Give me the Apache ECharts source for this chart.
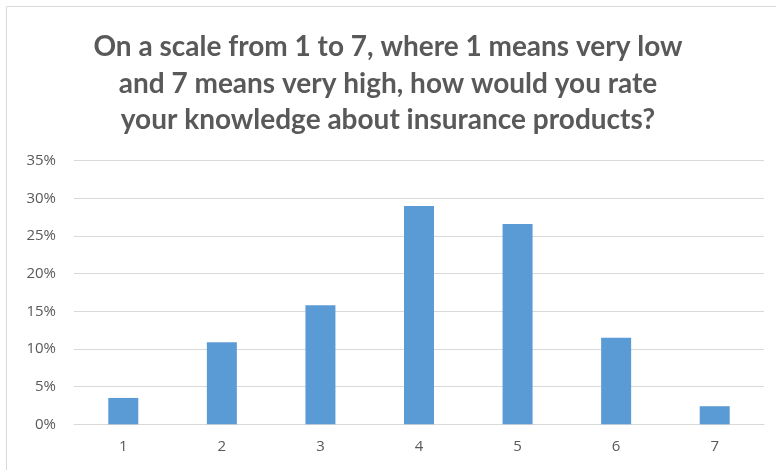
<!DOCTYPE html>
<html>
<head>
<meta charset="utf-8">
<script src="https://cdn.jsdelivr.net/npm/echarts@6/dist/echarts.min.js"></script>
<style>html,body{margin:0;padding:0;background:#fff}#c{width:776px;height:470px}</style>
</head>
<body>
<div id="c"></div>
<script>
var titleText = 'On a scale from 1 to 7, where 1 means very low\nand 7 means very high, how would you rate\nyour knowledge about insurance products?';
var categories = ['1', '2', '3', '4', '5', '6', '7'];
var values = [0.035, 0.109, 0.158, 0.290, 0.266, 0.115, 0.024];
var yMax = 0.35;
var yInterval = 0.05;

var chart = echarts.init(document.getElementById('c'), null, {renderer: 'canvas'});
chart.setOption({
  animation: false,
  backgroundColor: '#ffffff',
  graphic: [{
    type: 'rect',
    shape: {x: 6.5, y: 6.5, width: 800, height: 500},
    style: {fill: 'none', stroke: '#d9d9d9', lineWidth: 1},
    silent: true
  }],
  title: {
    text: titleText,
    left: 'center',
    top: 24,
    textStyle: {
      fontFamily: 'Lato',
      fontWeight: 'bold',
      fontSize: 28,
      lineHeight: 36.5,
      color: '#595959'
    }
  },
  grid: {left: 74, right: 12, top: 160.7, bottom: 45.7},
  xAxis: {
    type: 'category',
    data: categories,
    axisLine: {show: true, lineStyle: {color: '#d9d9d9'}},
    axisTick: {show: false},
    axisLabel: {color: '#595959', fontSize: 15, fontFamily: 'Open Sans', margin: 15}
  },
  yAxis: {
    type: 'value',
    min: 0,
    max: yMax,
    interval: yInterval,
    axisLine: {show: false},
    axisTick: {show: false},
    splitLine: {lineStyle: {color: '#d9d9d9'}},
    axisLabel: {
      color: '#595959', fontSize: 15, fontFamily: 'Open Sans', margin: 18,
      formatter: function (v) { return Math.round(v * 100) + '%'; }
    }
  },
  series: [{
    type: 'bar',
    data: values,
    barWidth: 30,
    itemStyle: {color: '#5b9bd5'}
  }]
});
</script>
</body>
</html>
